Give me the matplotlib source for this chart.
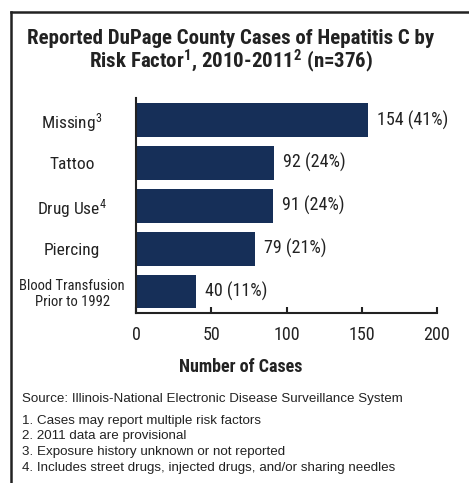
import matplotlib
matplotlib.use("Agg")
import matplotlib.pyplot as plt
import matplotlib.lines as mlines

NARROW = "Roboto Condensed"
plt.rcParams["font.family"] = [NARROW, "DejaVu Sans"]
plt.rcParams["mathtext.fontset"] = "custom"
plt.rcParams["mathtext.rm"] = NARROW
plt.rcParams["mathtext.bf"] = NARROW + ":bold"
plt.rcParams["mathtext.default"] = "regular"

categories = ["Missing$^3$", "Tattoo", "Drug Use$^4$", "Piercing", "Blood Transfusion\nPrior to 1992"]
values = [154, 92, 91, 79, 40]
pct_labels = ["154 (41%)", "92 (24%)", "91 (24%)", "79 (21%)", "40 (11%)"]
xticks = [0, 50, 100, 150, 200]
title = "Reported DuPage County Cases of Hepatitis C by\nRisk Factor$^1$, 2010-2011$^2$ (n=376)"
xlabel = "Number of Cases"
source = "Source: Illinois-National Electronic Disease Surveillance System"
notes = ["1. Cases may report multiple risk factors",
         "2. 2011 data are provisional",
         "3. Exposure history unknown or not reported",
         "4. Includes street drugs, injected drugs, and/or sharing needles"]

W, H = 469, 483
INK = "#222222"
fig = plt.figure(figsize=(W / 100, H / 100), dpi=100)
ax = fig.add_axes([136 / W, 1 - 313 / H, (437 - 136) / W, (313 - 98.5) / H])

bar_color = "#162F58"
ypos = list(range(len(categories)))
ax.barh(ypos, values, height=0.79, color=bar_color)
ax.set_ylim(len(categories) - 0.5, -0.5)
ax.set_xlim(0, 200)
for y, v, lab in zip(ypos, values, pct_labels):
    ax.text(v + 6, y, lab, va="center", ha="left", fontsize=13, color=INK)

ax.set_xticks(xticks)
ax.set_xticklabels([str(t) for t in xticks], fontsize=13, color=INK)
ax.tick_params(axis="x", direction="in", length=4, width=1.5, pad=9, color=INK)
ax.set_yticks(ypos)
ax.set_yticklabels(categories)
for i, lbl in enumerate(ax.get_yticklabels()):
    lbl.set_ha("center")
    lbl.set_fontsize(10.5 if i == len(categories) - 1 else 12.5)
    lbl.set_color(INK)
ax.tick_params(axis="y", length=0, pad=46)
for s in ["top", "right"]:
    ax.spines[s].set_visible(False)
for s in ["left", "bottom"]:
    ax.spines[s].set_linewidth(1.5)
    ax.spines[s].set_color(INK)

fig.text(231 / W, 1 - 52 / H, title, ha="center", va="center", fontsize=15,
         fontweight="bold", linespacing=0.97, color=INK)
fig.text(241 / W, 1 - 367 / H, xlabel, ha="center", va="center", fontsize=13,
         fontweight="bold", color=INK)
fig.text(22 / W, 1 - 399 / H, source, ha="left", va="center", fontsize=9.6,
         color=INK, family=["Liberation Sans", "DejaVu Sans"])
for i, n in enumerate(notes):
    fig.text(22 / W, 1 - (421 + 15.5 * i) / H, n, ha="left", va="center", fontsize=9.6,
             color=INK, family=["Liberation Sans", "DejaVu Sans"])

# frame
fig.add_artist(mlines.Line2D([10.5 / W, 10.5 / W], [0, 1 - 12 / H], color=INK, lw=1.8,
                             transform=fig.transFigure))
fig.add_artist(mlines.Line2D([10.5 / W, 1], [1 - 12 / H, 1 - 12 / H], color=INK, lw=1.8,
                             transform=fig.transFigure))

fig.savefig("out.png", dpi=100)
